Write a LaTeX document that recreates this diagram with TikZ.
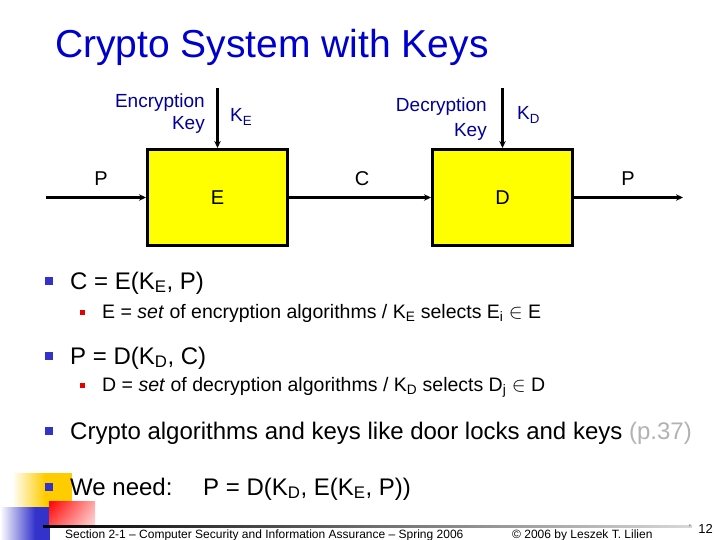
\documentclass[tikz,border=0pt]{standalone}
\usepackage{fontspec}
\setmainfont{Liberation Sans}
\usetikzlibrary{arrows.meta,shadings}
\definecolor{titleblue}{RGB}{0,0,204}
\definecolor{keyblue}{RGB}{0,0,153}
\definecolor{bulletblue}{RGB}{51,51,204}
\definecolor{bulletred}{RGB}{230,0,0}
\definecolor{boxyellow}{RGB}{255,255,0}
\definecolor{deckyellow}{RGB}{255,204,0}
\definecolor{pagegrey}{RGB}{178,178,178}

\begin{document}
\begin{tikzpicture}[x=1pt,y=-1pt,
    blockbox/.style={draw,line width=3pt,fill=boxyellow,minimum width=140pt,minimum height=96pt,inner sep=0pt},
    flow/.style={line width=2.4pt,-{Stealth[length=7pt,width=6.5pt]}},
    lbl/.style={inner sep=0pt,font=\fontsize{20}{22}\selectfont},
    keylbl/.style={inner sep=0pt,text=keyblue,font=\fontsize{19}{21}\selectfont},
    bigbul/.style={fill=bulletblue,minimum size=8pt,inner sep=0pt},
    smallbul/.style={fill=bulletred,minimum size=5pt,inner sep=0pt},
    itemtxt/.style={anchor=base west,inner sep=0pt,font=\fontsize{24}{26}\selectfont},
    subtxt/.style={anchor=base west,inner sep=0pt,font=\fontsize{19.5}{21}\selectfont},
    foot/.style={inner sep=0pt,font=\fontsize{12}{14}\selectfont}]
    \useasboundingbox (0,0) rectangle (720,540);

    %title
    \node[anchor=base west,inner sep=0pt,text=titleblue,font=\fontsize{39}{44}\selectfont] (title) at (55,58) {Crypto System with Keys};

    %boxes
    \node[blockbox] (enc) at (217.5,197.5) {};
    \node[blockbox] (dec) at (502.5,197.5) {};
    \node[lbl] (encname) at (enc) {E};
    \node[lbl] (decname) at (dec) {D};

    %keys
    \node[keylbl,anchor=base east] (enctxt) at (205,108) {Encryption};
    \node[keylbl,anchor=base east] (enckey) at (205,130) {Key};
    \node[keylbl,anchor=base west] (kelbl) at (230,122) {K\textsubscript{E}};
    \node[keylbl,anchor=base east] (dectxt) at (487,112) {Decryption};
    \node[keylbl,anchor=base east] (deckey) at (487,137) {Key};
    \node[keylbl,anchor=base west] (kdlbl) at (517,120) {K\textsubscript{D}};
    \coordinate (ke) at (217.5,88);
    \coordinate (kd) at (502.5,88);

    %flow
    \coordinate (pin) at (46,197.5);
    \coordinate (pout) at (683,197.5);
    \node[lbl] (plain) at (101,179) {P};
    \node[lbl] (cipher) at (362,179) {C};
    \node[lbl] (plainout) at (628,179) {P};

    \draw[flow] (pin) -- (enc.west);
    \draw[flow] (enc.east) -- (dec.west);
    \draw[flow] (dec.east) -- (pout);
    \draw[flow] (ke) -- (enc.north);
    \draw[flow] (kd) -- (dec.north);

    %corner
    \shade[left color=white,right color=deckyellow] (12,473) rectangle (45,508);
    \fill[deckyellow] (45,473) rectangle (72,508);
    \shade[left color=white,right color=bulletblue] (0,507) rectangle (35,540);
    \fill[bulletblue] (35,507) rectangle (50,540);
    \shade[upper left=red,upper right=red!35,lower left=red!70,lower right=red!15] (49,501) rectangle (95,526);
    \shade[left color=black,right color=black!15] (43,525) rectangle (692,527.5);

    %bullets
    \node[bigbul] (b1) at (48.5,281) {};
    \node[smallbul] (b1a) at (82,312) {};
    \node[bigbul] (b2) at (48.5,356) {};
    \node[smallbul] (b2a) at (82,385) {};
    \node[bigbul] (b3) at (48.5,431) {};
    \node[bigbul] (b4) at (48.5,487) {};

    \node[itemtxt] (l1) at (70,289) {C = E(K\textsubscript{E}, P)};
    \node[subtxt] (l1a) at (102,318) {E = \textit{set} of encryption algorithms / K\textsubscript{E} selects E\textsubscript{i} $\in$ E};
    \node[itemtxt] (l2) at (70,364) {P = D(K\textsubscript{D}, C)};
    \node[subtxt] (l2a) at (102,391) {D = \textit{set} of decryption algorithms / K\textsubscript{D} selects D\textsubscript{j} $\in$ D};
    \node[itemtxt] (l3) at (70,439) {Crypto algorithms and keys like door locks and keys \textcolor{pagegrey}{(p.37)}};
    \node[itemtxt] (l4) at (70,495) {We need:};
    \node[itemtxt] (l4b) at (203,495) {P = D(K\textsubscript{D}, E(K\textsubscript{E}, P))};

    %footer
    \node[foot,anchor=base west] (course) at (65,538) {Section 2-1 – Computer Security and Information Assurance – Spring 2006};
    \node[foot,anchor=base west] (author) at (512,538) {© 2006 by Leszek T. Lilien};
    \node[foot,anchor=base west,font=\fontsize{8}{9}\selectfont] (tick) at (689,530) {'};
    \node[foot,anchor=base east,font=\fontsize{13}{15}\selectfont] (pageno) at (713,533) {12};
\end{tikzpicture}
\end{document}
